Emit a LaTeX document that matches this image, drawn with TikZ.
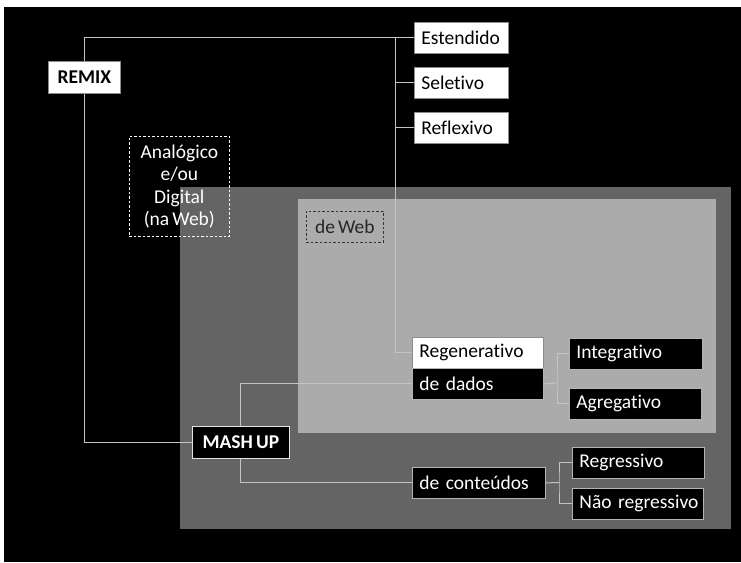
\documentclass[tikz,border=0pt]{standalone}
\usepackage{fontspec}
\setmainfont{Carlito}[Ligatures=NoCommon, WordSpace=0.7]
\definecolor{darkpanel}{HTML}{646464}
\definecolor{lightpanel}{HTML}{ABABAB}
\definecolor{conn}{HTML}{C4C4C4}
\definecolor{wborder}{HTML}{8C8C8C}
\definecolor{bborder}{HTML}{B4B4B4}
\pgfdeclarelayer{back}
\pgfdeclarelayer{mid}
\pgfsetlayers{back,mid,main}
\begin{document}
\begin{tikzpicture}[x=1pt,y=-1pt,
  every node/.style={font=\fontsize{19.5}{22.5}\selectfont, inner xsep=7pt, inner ysep=0pt},
  wbox/.style={draw=wborder, fill=white, text=black, minimum height=31pt, align=left, anchor=north west, line width=0.8pt},
  bbox/.style={draw=bborder, fill=black, text=white, minimum height=31pt, align=left, anchor=north west, line width=0.8pt},
  titlebox/.style={minimum height=32pt, align=center, inner xsep=0pt, font=\fontsize{19.5}{22.5}\selectfont\bfseries},
  conline/.style={draw=conn, line width=1pt},
  dashbox/.style={dashed, line width=0.7pt, dash pattern=on 2.5pt off 2pt}]
\useasboundingbox (0,0) rectangle (741,562);
\begin{pgfonlayer}{back}
\fill[white] (0,0) rectangle (741,562);
\fill[black] (4,7) rectangle (741,562);
\fill[darkpanel] (180,187) rectangle (731,529);
\fill[lightpanel] (298,199) rectangle (716,433);
\end{pgfonlayer}
% dashed labels
\node[draw=white, dashbox, text=white, align=center, minimum width=100pt, minimum height=100pt, anchor=north west, inner xsep=0pt] (analog) at (129,136) {Analógico\\e/ou\\Digital\\(na Web)};
\node[draw=black!80, dashbox, text=black!85, minimum width=77pt, minimum height=31pt, anchor=north west, inner xsep=0pt] (deweb) at (306,211) {de Web};
% boxes
\node[wbox, text width=80pt] (est) at (414,22) {\mbox{Estendido}};
\node[wbox, text width=80pt] (sel) at (414,67) {\mbox{Seletivo}};
\node[wbox, text width=80pt] (ref) at (414,112) {\mbox{Reflexivo}};
\node[wbox, text width=117pt] (reg) at (412,337) {\mbox{Regenerativo}};
\node[bbox, text width=117pt] (dados) at (412,368) {\mbox{de dados}};
\node[bbox, text width=119pt] (integ) at (569,338) {\mbox{Integrativo}};
\node[bbox, text width=118pt] (agreg) at (569,388) {\mbox{Agregativo}};
\node[bbox, text width=119pt] (cont) at (412,467) {\mbox{de conteúdos}};
\node[bbox, text width=118pt] (regr) at (572,447) {\mbox{Regressivo}};
\node[bbox, text width=117pt] (nreg) at (572,488) {\mbox{Não regressivo}};
\node[wbox, titlebox, minimum width=72pt] (remix) at (48,61) {REMIX};
\node[bbox, titlebox, draw=white!90!black, minimum width=97pt] (mash) at (192,426) {MASH UP};
% connectors
\coordinate (trunk) at (395,0);
\coordinate (b1) at (557,383);
\coordinate (b2) at (559,482.5);
\begin{pgfonlayer}{mid}
\draw[conline] (est.west) -| (remix.center) |- (mash.west);
\draw[conline] (trunk |- est.west) |- (reg.west);
\draw[conline] (trunk |- sel.west) -- (sel.west);
\draw[conline] (trunk |- ref.west) -- (ref.west);
\draw[conline] (mash.center) |- (dados.west);
\draw[conline] (mash.center) |- (cont.west);
\draw[conline] (dados.east) -- (b1);
\draw[conline] (integ.west) -| (b1) |- (agreg.west);
\draw[conline] (cont.east) -- (b2);
\draw[conline] (regr.west) -| (b2) |- (nreg.west);
\end{pgfonlayer}
\end{tikzpicture}
\end{document}
